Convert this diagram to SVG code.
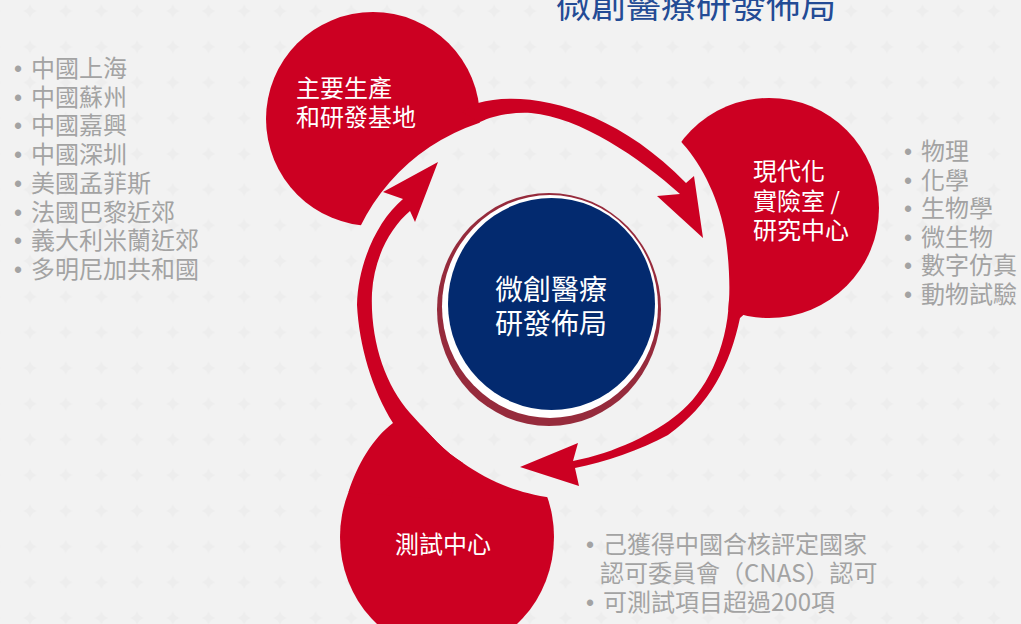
<svg xmlns="http://www.w3.org/2000/svg" width="1021" height="624" viewBox="0 0 1021 624">
<style>
.red{fill:#cc0022}
.lbl{font-family:"Noto Sans CJK TC","Noto Sans",sans-serif;fill:#ffffff}
.gray{font-family:"Noto Sans CJK TC","Noto Sans",sans-serif;fill:#a3a3a3;font-size:24px}
.bul{font-family:"Liberation Sans",sans-serif;font-size:23px}
</style>
<defs>
<pattern id="bg" patternUnits="userSpaceOnUse" x="12.15" y="-6.75" width="35.7" height="35.7">
<rect width="35.7" height="35.7" fill="#f2f2f2"/>
<path d="M17.85,11 Q19.2,16.5 24.7,17.85 Q19.2,19.2 17.85,24.7 Q16.5,19.2 11,17.85 Q16.5,16.5 17.85,11Z" fill="#ededed"/>
</pattern>
<mask id="cut" maskUnits="userSpaceOnUse" x="0" y="0" width="1021" height="624">
<rect width="1021" height="624" fill="#fff"/>
<path fill="#000" d="M360,227 A203,203 0 0 1 531,113 L660,116 L683,144 C702,165 720,200 726,240 C729,262 730,285 729,300 C727,350 705,393 678,414 C655,433 615,453 573,461 L575,505 L553,498 C510,492 485,478 463,463 C445,452 430,435 410,413 C385,385 370,340 372,293 L358,245 Z"/>
</mask>
</defs>
<rect width="1021" height="624" fill="url(#bg)"/>

<text x="556" y="18" font-family="Noto Sans CJK TC, Noto Sans, sans-serif" font-size="35" fill="#234b95">微創醫療研發佈局</text>

<g id="node-production">
<circle class="red" cx="373" cy="119" r="107" mask="url(#cut)"/>
<text class="lbl" font-size="24"><tspan x="296" y="97">主要生產</tspan><tspan x="296" y="126">和研發基地</tspan></text>
</g>
<g id="node-lab">
<circle class="red" cx="769" cy="208" r="110" mask="url(#cut)"/>
<text class="lbl" font-size="24"><tspan x="753" y="180">現代化</tspan><tspan x="753" y="209.5">實險室 /</tspan><tspan x="753" y="238.5">研究中心</tspan></text>
</g>
<g id="node-testing">
<ellipse class="red" cx="447" cy="537" rx="107" ry="115" mask="url(#cut)"/>
<text class="lbl" font-size="24" x="395" y="553">測試中心</text>
</g>

<g id="connectors">
<path class="red" d="M462,112 L478,103 C525,90 610,105 686,183 L694,176 L703,238 L657,196 L680,194 C640,158 580,117 531,113 C510,112 492,116 480,122 Z"/>
<path class="red" d="M760,300 L740,318 C730,365 710,405 668,435 C640,450 605,462 575,468 L579,486 L520,467 L578,443 L573,461 C615,453 655,433 678,414 C705,393 727,350 729,300 Z"/>
<path class="red" d="M348.5,492 C357,465 373,438 393,423 C372,390 359,345 357,305 C358,262 378,220 403,199 L383,192 L438,162 L415,222 L410,211 C390,228 374,258 372,293 C370,340 385,385 410,413 C430,435 445,452 463,463 L450,500 Z"/>
</g>

<g id="node-center">
<ellipse cx="549" cy="309.5" rx="112" ry="116.5" fill="#962b3c"/>
<ellipse cx="550" cy="306.5" rx="108" ry="111.5" fill="#ffffff"/>
<ellipse cx="551.5" cy="304" rx="103.5" ry="106" fill="#032a6f"/>
<text class="lbl" font-size="28" text-anchor="middle"><tspan x="551" y="300">微創醫療</tspan><tspan x="551" y="334">研發佈局</tspan></text>
</g>

<g id="list-locations">
<text class="gray"><tspan class="bul" x="14" y="77">•</tspan><tspan x="31" y="77">中國上海</tspan><tspan class="bul" x="14" y="105.7">•</tspan><tspan x="31" y="105.7">中國蘇州</tspan><tspan class="bul" x="14" y="134.4">•</tspan><tspan x="31" y="134.4">中國嘉興</tspan><tspan class="bul" x="14" y="163">•</tspan><tspan x="31" y="163">中國深圳</tspan><tspan class="bul" x="14" y="191.8">•</tspan><tspan x="31" y="191.8">美國孟菲斯</tspan><tspan class="bul" x="14" y="220.5">•</tspan><tspan x="31" y="220.5">法國巴黎近郊</tspan><tspan class="bul" x="14" y="249.2">•</tspan><tspan x="31" y="249.2">義大利米蘭近郊</tspan><tspan class="bul" x="14" y="277.9">•</tspan><tspan x="31" y="277.9">多明尼加共和國</tspan></text>
</g>

<g id="list-lab">
<text class="gray"><tspan class="bul" x="904" y="160">•</tspan><tspan x="921" y="160">物理</tspan><tspan class="bul" x="904" y="188.5">•</tspan><tspan x="921" y="188.5">化學</tspan><tspan class="bul" x="904" y="217">•</tspan><tspan x="921" y="217">生物學</tspan><tspan class="bul" x="904" y="245.5">•</tspan><tspan x="921" y="245.5">微生物</tspan><tspan class="bul" x="904" y="274">•</tspan><tspan x="921" y="274">數字仿真</tspan><tspan class="bul" x="904" y="302.5">•</tspan><tspan x="921" y="302.5">動物試驗</tspan></text>
</g>

<g id="list-testing">
<text class="gray"><tspan class="bul" x="586" y="553">•</tspan><tspan x="603" y="553">己獲得中國合核評定國家</tspan><tspan x="600" y="582">認可委員會（CNAS）認可</tspan><tspan class="bul" x="586" y="611">•</tspan><tspan x="603" y="611">可測試項目超過200項</tspan></text>
</g>
</svg>
